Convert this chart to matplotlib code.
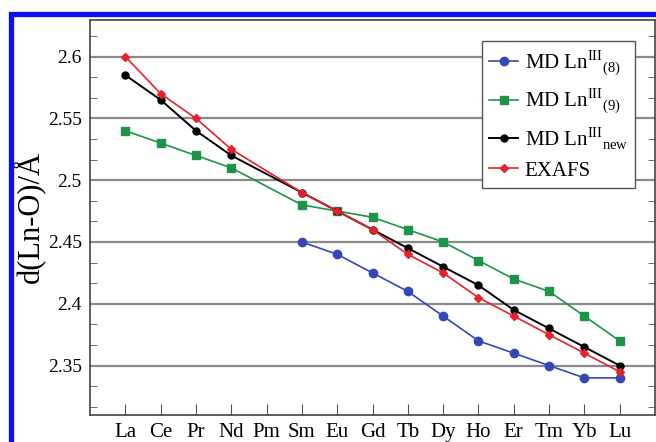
import matplotlib
matplotlib.use('Agg')
import matplotlib.pyplot as plt
from matplotlib.patches import Rectangle
from matplotlib.ticker import MultipleLocator

# lanthanide series
elements = ['La', 'Ce', 'Pr', 'Nd', 'Pm', 'Sm', 'Eu', 'Gd', 'Tb', 'Dy', 'Ho', 'Er', 'Tm', 'Yb', 'Lu']

# element positions with data (Pm missing)
md8_el = ['Sm', 'Eu', 'Gd', 'Tb', 'Dy', 'Ho', 'Er', 'Tm', 'Yb', 'Lu']
md8 = [2.45, 2.44, 2.425, 2.41, 2.39, 2.37, 2.36, 2.35, 2.34, 2.34]

other_el = ['La', 'Ce', 'Pr', 'Nd', 'Sm', 'Eu', 'Gd', 'Tb', 'Dy', 'Ho', 'Er', 'Tm', 'Yb', 'Lu']
md9 = [2.54, 2.53, 2.52, 2.51, 2.48, 2.475, 2.47, 2.46, 2.45, 2.435, 2.42, 2.41, 2.39, 2.37]
md_new = [2.585, 2.565, 2.54, 2.52, 2.49, 2.475, 2.46, 2.445, 2.43, 2.415, 2.395, 2.38, 2.365, 2.35]
exafs = [2.60, 2.57, 2.55, 2.525, 2.49, 2.475, 2.46, 2.44, 2.425, 2.405, 2.39, 2.375, 2.36, 2.345]

plt.rcParams['font.family'] = ['Liberation Serif', 'DejaVu Serif']
plt.rcParams['mathtext.fontset'] = 'custom'
plt.rcParams['mathtext.rm'] = 'Liberation Serif'

fig = plt.figure(figsize=(6.56, 4.42), dpi=100)
ax = fig.add_axes([90/656, 1 - 415/442, 565/656, (415 - 19.5)/442])

def xpos(names):
    return [elements.index(n) for n in names]

ax.plot(xpos(md8_el), md8, '-o', color='#3548b8', ms=6, lw=1.2,
        label=r'MD Ln$^{\mathrm{III}}$$_{\mathrm{(8)}}$', zorder=3)
ax.plot(xpos(other_el), md9, '-s', color='#1e9448', ms=5.5, lw=1.2,
        label=r'MD Ln$^{\mathrm{III}}$$_{\mathrm{(9)}}$', zorder=3)
ax.plot(xpos(other_el), md_new, '-o', color='black', ms=5, lw=1.4,
        label=r'MD Ln$^{\mathrm{III}}$$_{\mathrm{new}}$', zorder=4)
ax.plot(xpos(other_el), exafs, '-D', color='#e8202c', ms=4.5, lw=1.2,
        label='EXAFS', zorder=5)

ax.set_xlim(-1, 15)
ax.set_ylim(2.31, 2.63)
ax.set_xticks(range(len(elements)))
ax.set_xticklabels(elements, fontsize=15)
ax.set_yticks([2.35, 2.4, 2.45, 2.5, 2.55, 2.6])
ax.set_yticklabels(['2.35', '2.4', '2.45', '2.5', '2.55', '2.6'], fontsize=14)
ax.yaxis.set_minor_locator(MultipleLocator(0.05 / 3))
ax.tick_params(axis='both', which='both', direction='in', right=True, color='#555555')
ax.tick_params(axis='x', length=8, pad=6)
ax.tick_params(axis='y', which='major', length=0, pad=6)
ax.tick_params(axis='y', which='minor', length=5)
ax.grid(axis='y', which='major', color='#8a8a8a', lw=1.6)
ax.set_axisbelow(True)
for s in ax.spines.values():
    s.set_color('#444444')
    s.set_linewidth(1.2)

ax.set_ylabel('d(Ln-O)/Å', fontsize=22, labelpad=2)

leg = ax.legend(loc='upper right', bbox_to_anchor=(0.965, 0.945), fontsize=15,
                handlelength=1.4, handletextpad=0.3, borderpad=0.35,
                borderaxespad=0, labelspacing=0.45, fancybox=False, framealpha=1)
leg.get_frame().set_edgecolor('#555555')
leg.get_frame().set_linewidth(1.0)

# blue frame (left/top border of the cropped figure)
fig.patches.append(Rectangle((10.5/656, -0.1), 1.2, 1 - 13.5/442 + 0.1,
                             transform=fig.transFigure, fill=False,
                             edgecolor='#0a10f0', lw=3.8, zorder=10))

fig.savefig('out.png', dpi=100)
